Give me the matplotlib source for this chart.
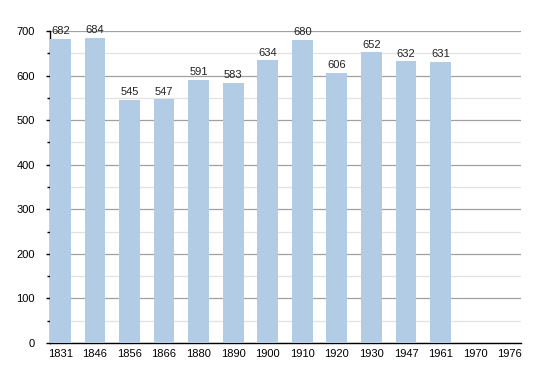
import matplotlib
matplotlib.use("Agg")
import matplotlib.pyplot as plt
import numpy as np

years = ["1831", "1846", "1856", "1866", "1880", "1890", "1900", "1910", "1920", "1930", "1947", "1961", "1970", "1976"]
population = [682, 684, 545, 547, 591, 583, 634, 680, 606, 652, 632, 631]

plt.rcParams['font.family'] = ['Liberation Sans', 'DejaVu Sans']

fig = plt.figure(figsize=(5.5, 3.73), dpi=100)
ax = fig.add_axes([50/550, 30/373, 471/550, 312/373])

x = np.arange(len(years))
xv = x[:len(population)]
ax.bar(xv, population, width=0.6, color='#b3cce5', zorder=3)
for xi, v in zip(xv, population):
    ax.text(xi, v + 6, str(v), ha='center', va='bottom', fontsize=8, color='#222222', zorder=4)

ax.set_xlim(-0.3, 13.33)
ax.set_ylim(0, 700)
ax.set_xticks(x)
ax.set_xticklabels(years, fontsize=8)
ax.set_yticks(np.arange(0, 701, 100))
ax.set_yticks(np.arange(50, 700, 100), minor=True)
ax.tick_params(axis='y', which='major', labelsize=8, length=3, width=1, pad=8)
ax.tick_params(axis='y', which='minor', length=2, width=1)
ax.tick_params(axis='x', length=0, pad=4)
ax.grid(axis='y', which='major', color='#a0a0a0', linewidth=0.9, zorder=0)
ax.grid(axis='y', which='minor', color='#e2e2e2', linewidth=0.9, zorder=0)
for s in ['top', 'right']:
    ax.spines[s].set_visible(False)
ax.spines['left'].set_linewidth(1.0)
ax.spines['bottom'].set_linewidth(1.0)

fig.savefig("out.png", dpi=100)
